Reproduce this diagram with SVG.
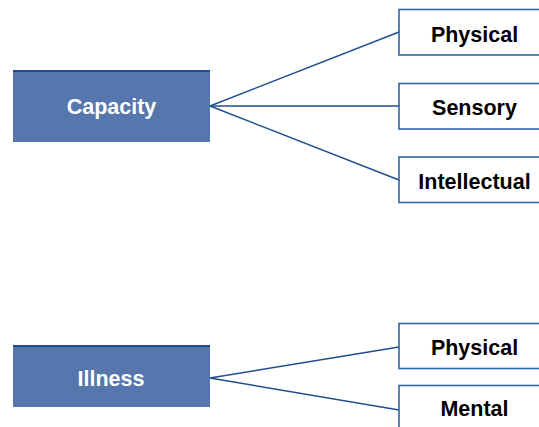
<svg xmlns="http://www.w3.org/2000/svg" width="539" height="427" viewBox="0 0 539 427">
<style>
.main{fill:#5677AE}
.mtop{stroke:#1F4E8F;stroke-width:2}
.leaf{fill:#fff;stroke:#2F64A6;stroke-width:1.6}
.edge{stroke:#1F4E8F;stroke-width:1.4;fill:none}
.lt{font-family:"Liberation Sans",Arial,sans-serif;font-weight:bold;font-size:21.5px;text-anchor:middle}
.mt{fill:#fff}
.kt{fill:#000}
</style>
<rect width="539" height="427" fill="#fff"/>
<g id="connectors">
<line class="edge" x1="210" y1="106" x2="399" y2="32"/>
<line class="edge" x1="210" y1="106" x2="399" y2="106"/>
<line class="edge" x1="210" y1="106" x2="399" y2="180"/>
<line class="edge" x1="210" y1="378" x2="399" y2="347"/>
<line class="edge" x1="210" y1="378" x2="399" y2="410"/>
</g>
<g id="capacity">
<rect class="main" x="13" y="70" width="197" height="72"/>
<line class="mtop" x1="13" y1="71" x2="210" y2="71"/>
<text class="lt mt" x="111.5" y="114">Capacity</text>
</g>
<g id="physical1">
<rect class="leaf" x="399" y="9.5" width="152" height="45.5"/>
<text class="lt kt" x="474.5" y="41.5">Physical</text>
</g>
<g id="sensory">
<rect class="leaf" x="399" y="83.5" width="152" height="45.5"/>
<text class="lt kt" x="474.5" y="115">Sensory</text>
</g>
<g id="intellectual">
<rect class="leaf" x="399" y="157" width="152" height="45.5"/>
<text class="lt kt" x="474.5" y="188.5">Intellectual</text>
</g>
<g id="illness">
<rect class="main" x="13" y="345" width="197" height="62"/>
<line class="mtop" x1="13" y1="346" x2="210" y2="346"/>
<text class="lt mt" x="111" y="385.5">Illness</text>
</g>
<g id="physical2">
<rect class="leaf" x="399" y="323.5" width="152" height="45"/>
<text class="lt kt" x="474.5" y="354.5">Physical</text>
</g>
<g id="mental">
<rect class="leaf" x="399" y="385.5" width="152" height="50"/>
<text class="lt kt" x="474.5" y="416">Mental</text>
</g>
</svg>
